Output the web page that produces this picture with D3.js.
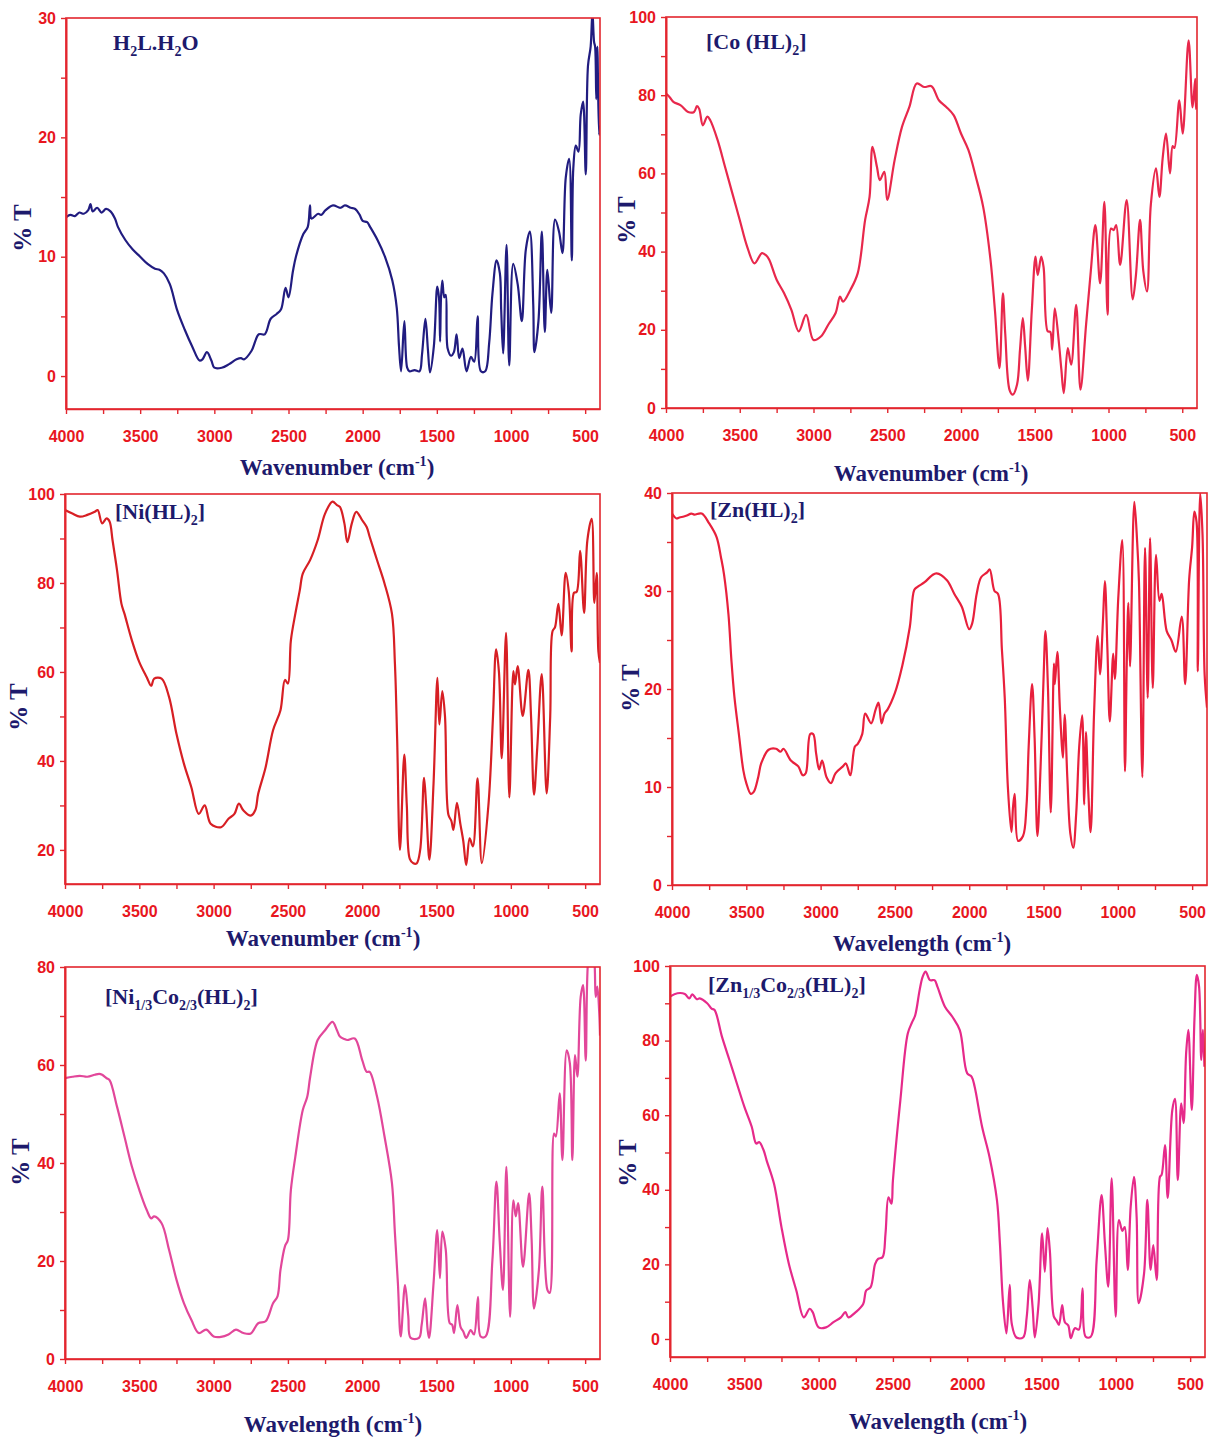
<!DOCTYPE html>
<html>
<head>
<meta charset="utf-8">
<script src="https://cdn.jsdelivr.net/npm/d3@7"></script>
<style>
body { margin: 0; background: #fff; }
</style>
</head>
<body>
<div class="canvas"></div>
<script>
// spectra: [wavenumber (cm-1), %T]
const specH2L = [[4000,13.3],[3970,13.5],[3940,13.4],[3910,13.7],[3880,13.6],[3850,13.9],[3835,14.4],[3820,13.8],[3790,14.1],[3760,13.7],[3730,14.0],[3700,13.8],[3670,13.2],[3650,12.5],[3600,11.4],[3550,10.6],[3500,10.0],[3450,9.4],[3400,9.0],[3370,8.9],[3340,8.6],[3300,7.7],[3250,5.5],[3200,3.9],[3150,2.5],[3100,1.3],[3080,1.4],[3050,2.0],[3020,1.3],[3000,0.7],[2950,0.7],[2900,1.0],[2850,1.4],[2820,1.5],[2800,1.4],[2750,2.1],[2700,3.5],[2660,3.5],[2620,4.8],[2580,5.2],[2550,5.6],[2520,7.4],[2500,6.6],[2470,8.8],[2450,10.0],[2400,11.9],[2370,12.5],[2355,14.3],[2345,13.2],[2300,13.6],[2280,13.5],[2250,13.9],[2200,14.3],[2150,14.1],[2120,14.3],[2080,14.1],[2050,14.0],[2020,13.5],[2000,13.0],[1970,12.9],[1950,12.5],[1900,11.4],[1850,10.0],[1800,8.0],[1770,5.7],[1755,2.5],[1741,0.4],[1719,4.6],[1700,0.7],[1685,0.4],[1650,0.5],[1617,0.4],[1600,1.8],[1577,4.8],[1560,2.2],[1546,0.3],[1520,2.5],[1497,7.5],[1485,6.5],[1478,2.9],[1472,6.5],[1463,8.0],[1450,6.6],[1440,6.8],[1427,2.3],[1404,1.7],[1385,2.0],[1367,3.5],[1349,1.5],[1327,2.3],[1300,0.4],[1270,1.6],[1248,1.2],[1225,5.0],[1203,0.4],[1174,0.4],[1147,2.8],[1125,6.9],[1097,9.7],[1075,8.6],[1066,5.5],[1053,1.9],[1030,11.0],[1012,0.9],[985,9.4],[955,7.7],[927,4.6],[900,10.6],[873,12.1],[850,6.0],[842,2.0],[815,4.6],[792,12.1],[772,3.7],[755,8.9],[729,5.3],[703,13.1],[676,12.1],[653,10.3],[631,16.6],[608,18.2],[590,9.7],[580,17.4],[563,19.3],[545,18.8],[530,21.9],[514,23.0],[496,16.9],[481,26.0],[463,27.6],[451,30.5],[440,28.0],[433,27.6],[425,23.2],[418,27.6],[406,20.2],[400,21.0]]

const specCo = [[4000,80.4],[3975,79.5],[3950,78.3],[3900,77.4],[3850,75.7],[3810,75.7],[3790,77.2],[3775,76.5],[3750,72.3],[3720,74.5],[3700,73.6],[3650,68.5],[3600,61.7],[3550,54.9],[3500,48.1],[3450,41.3],[3400,37.0],[3350,39.6],[3320,39.0],[3300,37.9],[3250,32.8],[3200,29.4],[3150,25.1],[3100,19.6],[3050,23.8],[3000,17.4],[2950,18.3],[2900,21.3],[2850,24.3],[2820,28.5],[2800,27.2],[2750,30.2],[2700,34.5],[2650,48.1],[2620,54.0],[2600,66.8],[2570,61.7],[2550,58.3],[2520,60.4],[2500,53.2],[2450,63.4],[2400,71.9],[2350,77.0],[2300,83.0],[2250,82.1],[2200,82.3],[2150,78.7],[2100,77.0],[2050,74.9],[2000,70.2],[1950,66.0],[1900,59.2],[1850,51.5],[1800,37.9],[1770,25.0],[1739,10.2],[1716,29.3],[1700,19.0],[1670,4.5],[1649,3.4],[1620,6.0],[1600,14.9],[1581,23.0],[1565,15.7],[1547,7.0],[1520,25.0],[1495,38.7],[1480,34.0],[1456,38.7],[1440,36.0],[1412,19.6],[1395,19.5],[1382,14.9],[1364,25.5],[1337,17.0],[1320,10.0],[1303,3.8],[1276,15.3],[1253,11.1],[1219,26.4],[1190,4.7],[1152,21.3],[1120,35.0],[1089,46.8],[1057,31.9],[1028,52.7],[1006,23.9],[983,45.9],[965,45.5],[948,46.8],[921,36.6],[877,53.2],[836,27.8],[814,34.0],[786,48.1],[764,35.0],[739,29.8],[713,52.0],[678,61.3],[655,54.0],[633,63.8],[610,70.2],[583,60.0],[565,67.0],[553,66.5],[520,78.7],[497,70.2],[457,94.0],[430,76.9],[412,84.2],[407,76.5],[400,78.0]]

const specNi = [[4000,96.4],[3950,95.6],[3900,94.9],[3850,95.3],[3800,96.0],[3780,96.4],[3750,93.4],[3720,94.5],[3700,93.8],[3680,89.6],[3650,82.9],[3620,75.3],[3600,73.1],[3550,67.1],[3500,62.2],[3450,58.8],[3420,56.9],[3400,58.5],[3350,58.5],[3300,54.4],[3250,46.1],[3200,39.4],[3150,34.1],[3100,28.1],[3060,30.0],[3020,25.9],[2950,25.1],[2900,27.0],[2860,28.1],[2830,30.4],[2800,28.9],[2750,27.7],[2720,28.9],[2700,32.6],[2650,38.6],[2600,46.9],[2550,51.4],[2520,58.2],[2500,57.4],[2480,67.1],[2450,73.1],[2420,78.4],[2400,82.1],[2350,85.2],[2300,89.6],[2250,95.6],[2200,98.3],[2170,97.5],[2150,97.1],[2120,93.4],[2100,89.2],[2070,93.4],[2040,96.0],[2000,94.1],[1970,92.6],[1950,90.4],[1900,85.1],[1850,79.9],[1800,73.1],[1780,61.9],[1765,45.0],[1746,20.0],[1717,41.4],[1700,30.0],[1680,18.0],[1656,17.0],[1633,17.0],[1610,20.0],[1584,36.2],[1570,30.0],[1548,17.8],[1520,35.0],[1494,58.7],[1481,48.2],[1461,55.7],[1443,50.0],[1420,27.9],[1400,26.5],[1386,24.5],[1363,30.6],[1340,25.9],[1320,22.0],[1300,16.6],[1277,22.6],[1255,20.8],[1224,36.1],[1195,17.0],[1150,30.4],[1120,50.0],[1099,65.1],[1080,60.0],[1061,40.6],[1032,68.8],[1010,31.8],[983,60.2],[972,57.2],[954,61.3],[920,50.1],[882,60.5],[864,50.0],[844,32.4],[822,43.1],[792,59.5],[759,32.7],[735,50.0],[719,69.2],[703,70.0],[680,75.3],[658,68.2],[631,82.3],[610,78.0],[591,64.6],[575,77.8],[557,78.0],[534,87.2],[507,73.3],[485,89.6],[456,94.4],[438,75.5],[422,82.3],[411,64.7],[400,62.0]]

const specZn = [[4000,37.9],[3970,37.4],[3950,37.5],[3920,37.6],[3900,37.7],[3870,37.9],[3850,37.8],[3800,37.9],[3750,36.9],[3700,35.5],[3670,33.4],[3650,31.7],[3620,27.6],[3600,22.9],[3580,19.2],[3550,15.4],[3520,11.7],[3500,10.4],[3470,9.3],[3450,9.5],[3420,11.0],[3400,12.4],[3350,13.8],[3300,13.9],[3270,13.6],[3250,13.9],[3200,12.7],[3150,12.1],[3120,11.2],[3100,11.4],[3070,15.4],[3050,15.4],[3030,13.4],[3010,11.8],[2990,12.7],[2960,11.0],[2930,10.4],[2900,11.4],[2850,12.1],[2830,12.4],[2800,11.2],[2770,14.1],[2750,14.4],[2720,15.4],[2700,17.5],[2660,16.5],[2630,17.9],[2610,18.6],[2590,16.5],[2570,17.5],[2550,17.9],[2500,19.6],[2450,22.4],[2400,26.3],[2370,30.1],[2350,30.4],[2300,30.9],[2250,31.6],[2220,31.8],[2150,31.1],[2100,29.7],[2050,28.4],[2000,26.1],[1980,26.7],[1950,29.7],[1920,31.4],[1880,31.9],[1862,32.2],[1830,30.0],[1806,29.7],[1780,24.0],[1761,19.1],[1740,10.0],[1716,5.4],[1705,8.0],[1694,9.3],[1671,4.5],[1638,5.0],[1615,8.0],[1600,14.1],[1577,20.5],[1560,15.0],[1541,5.0],[1520,12.0],[1500,21.0],[1487,25.9],[1470,20.0],[1451,7.4],[1430,22.6],[1424,20.5],[1407,23.8],[1390,18.0],[1369,13.0],[1358,17.4],[1340,11.0],[1320,5.3],[1300,3.8],[1280,7.3],[1260,14.1],[1240,17.3],[1226,8.2],[1215,15.6],[1200,10.0],[1183,5.4],[1160,17.5],[1136,25.4],[1120,21.5],[1100,27.0],[1087,31.0],[1070,24.0],[1054,16.7],[1031,23.6],[1020,21.0],[997,29.3],[970,35.2],[952,11.6],[940,22.6],[929,28.8],[918,22.3],[889,39.1],[870,35.0],[858,31.0],[835,11.0],[817,34.4],[799,19.1],[783,35.4],[765,20.1],[743,33.7],[720,29.0],[705,29.7],[671,25.9],[640,25.0],[610,23.8],[570,27.4],[547,20.5],[520,31.2],[500,34.5],[485,38.1],[470,37.0],[462,21.8],[446,40.0],[430,35.7],[416,21.5],[400,18.1]]

const specNiCo = [[4000,57.3],[3950,57.6],[3900,57.8],[3850,57.6],[3800,58.0],[3770,58.2],[3750,58.0],[3720,57.3],[3700,56.9],[3650,51.5],[3600,45.4],[3550,39.3],[3500,34.5],[3450,30.4],[3420,28.7],[3400,29.1],[3350,27.7],[3300,22.3],[3250,16.2],[3200,11.4],[3150,8.0],[3100,5.3],[3050,6.0],[3000,4.6],[2950,4.5],[2900,5.0],[2850,6.0],[2800,5.3],[2750,5.2],[2700,7.3],[2650,7.7],[2600,11.4],[2570,12.8],[2550,18.2],[2520,23.0],[2500,24.3],[2480,34.5],[2450,41.3],[2400,50.8],[2370,53.5],[2350,57.6],[2300,65.1],[2250,67.1],[2200,68.8],[2170,67.1],[2150,65.8],[2120,65.3],[2100,65.1],[2050,65.4],[2000,61.0],[1970,58.6],[1950,58.6],[1900,53.5],[1850,45.4],[1800,35.9],[1780,25.7],[1760,15.5],[1741,4.6],[1712,15.1],[1690,8.7],[1674,4.3],[1618,4.3],[1600,7.0],[1577,12.4],[1560,6.0],[1550,4.3],[1520,15.5],[1495,26.3],[1477,16.5],[1461,26.0],[1438,22.3],[1411,7.3],[1395,7.0],[1382,5.3],[1360,11.0],[1338,6.5],[1320,5.6],[1300,4.3],[1270,5.9],[1248,5.0],[1221,12.7],[1203,4.6],[1170,4.6],[1124,20.2],[1097,36.2],[1075,24.2],[1053,14.1],[1030,39.2],[1005,8.6],[983,32.4],[967,29.1],[951,31.8],[918,18.8],[877,33.8],[860,24.3],[844,10.3],[811,18.2],[788,35.2],[754,14.1],[738,13.5],[709,46.0],[697,45.4],[671,54.2],[653,40.6],[624,63.0],[603,60.4],[586,40.6],[568,62.0],[552,57.6],[530,73.9],[514,76.3],[496,60.9],[478,82.0],[460,84.0],[440,82.0],[429,73.9],[418,76.0],[406,71.2],[400,66.0]]

const specZnCo = [[4000,91.8],[3950,92.7],[3900,92.5],[3870,91.3],[3850,92.4],[3820,91.1],[3800,91.3],[3750,90.0],[3720,88.6],[3700,88.2],[3650,81.0],[3600,74.8],[3550,68.5],[3500,62.3],[3450,56.9],[3420,52.4],[3400,52.8],[3370,50.6],[3350,47.9],[3300,41.6],[3250,30.0],[3200,20.1],[3150,13.0],[3100,5.8],[3060,8.1],[3040,7.2],[3000,3.1],[2950,3.1],[2900,4.5],[2850,5.8],[2820,7.2],[2800,5.8],[2750,7.2],[2700,9.4],[2680,13.0],[2650,13.9],[2620,20.1],[2600,21.5],[2570,21.9],[2550,28.2],[2530,38.0],[2510,36.3],[2500,42.5],[2450,64.0],[2400,81.9],[2370,85.0],[2350,86.8],[2320,93.6],[2300,97.1],[2280,98.5],[2250,96.2],[2220,96.2],[2200,94.4],[2150,89.1],[2100,86.4],[2050,82.8],[2000,71.2],[1970,70.3],[1950,67.6],[1900,56.9],[1850,48.8],[1800,37.2],[1780,25.6],[1760,10.3],[1736,1.5],[1714,14.5],[1700,4.0],[1669,0.4],[1624,0.4],[1600,5.8],[1579,15.8],[1560,8.5],[1545,0.4],[1520,9.4],[1496,28.3],[1478,18.0],[1460,29.7],[1444,23.7],[1417,6.0],[1400,5.0],[1383,3.8],[1361,9.1],[1343,4.5],[1320,3.6],[1303,0.2],[1276,2.9],[1249,2.5],[1224,13.6],[1203,0.6],[1169,0.6],[1129,21.2],[1096,38.6],[1073,25.3],[1051,14.0],[1028,43.1],[1001,6.0],[979,31.9],[956,29.0],[940,30.0],[920,18.5],[900,35.5],[878,43.5],[860,32.7],[846,9.6],[810,17.6],[788,37.3],[766,18.5],[748,25.2],[725,15.8],[703,43.5],[692,44.0],[669,52.0],[651,37.8],[620,61.4],[602,64.4],[583,42.6],[560,63.2],[544,57.9],[527,76.6],[512,82.9],[489,61.4],[471,85.7],[455,97.6],[440,94.5],[425,74.8],[414,82.9],[404,73.0]]

// tick values
const xTickValues = d3.range(4000, 499, -250)
const xTickLabels = [4000, 3500, 3000, 2500, 2000, 1500, 1000, 500]

// compound labels, pieces: [text, "sub" | ""]
const labelH2L = [["H", ""], ["2", "sub"], ["L.H", ""], ["2", "sub"], ["O", ""]]
const labelCo = [["[Co (HL)", ""], ["2", "sub"], ["]", ""]]
const labelNi = [["[Ni(HL)", ""], ["2", "sub"], ["]", ""]]
const labelZn = [["[Zn(HL)", ""], ["2", "sub"], ["]", ""]]
const labelNiCo = [["[Ni", ""], ["1/3", "sub"], ["Co", ""], ["2/3", "sub"], ["(HL)", ""], ["2", "sub"], ["]", ""]]
const labelZnCo = [["[Zn", ""], ["1/3", "sub"], ["Co", ""], ["2/3", "sub"], ["(HL)", ""], ["2", "sub"], ["]", ""]]

const frameRed = "#e3262e"
const tickRed = "#e8161e"
const navy = "#1d1a6c"

const panels = [
    { data: specH2L, color: "#211c80", box: [66, 18, 600, 409], yDomain: [-2.76, 30], yTicks: [0, 10, 20, 30], yMinor: [5, 15, 25],
      label: labelH2L, labelPos: [113, 50], xTitle: "Wavenumber", titlePos: [337, 475], pctPos: [22, 228] },
    { data: specCo, color: "#e8284c", box: [666, 17, 1197, 408], yDomain: [0, 100], yTicks: [0, 20, 40, 60, 80, 100], yMinor: [10, 30, 50, 70, 90],
      label: labelCo, labelPos: [706, 49], xTitle: "Wavenumber", titlePos: [931, 481], pctPos: [626, 220] },
    { data: specNi, color: "#d71f24", box: [65, 494, 600, 884], yDomain: [12.34, 100], yTicks: [20, 40, 60, 80, 100], yMinor: [30, 50, 70, 90],
      label: labelNi, labelPos: [115, 519], xTitle: "Wavenumber", titlePos: [323, 946], pctPos: [18, 707] },
    { data: specZn, color: "#e8203c", box: [672, 493, 1207, 885], yDomain: [0, 40], yTicks: [0, 10, 20, 30, 40], yMinor: [5, 15, 25, 35],
      label: labelZn, labelPos: [710, 517], xTitle: "Wavelength", titlePos: [922, 951], pctPos: [630, 688] },
    { data: specNiCo, color: "#e2479a", box: [65, 967, 600, 1359], yDomain: [0, 80], yTicks: [0, 20, 40, 60, 80], yMinor: [10, 30, 50, 70],
      label: labelNiCo, labelPos: [105, 1004], xTitle: "Wavelength", titlePos: [333, 1432], pctPos: [20, 1162] },
    { data: specZnCo, color: "#e62a8a", box: [670, 966, 1205, 1357], yDomain: [-4.83, 100], yTicks: [0, 20, 40, 60, 80, 100], yMinor: [10, 30, 50, 70, 90],
      label: labelZnCo, labelPos: [708, 992], xTitle: "Wavelength", titlePos: [938, 1429], pctPos: [627, 1163] }
]

const svg = d3.select(".canvas")
    .append("svg")
    .attr("width", 1210)
    .attr("height", 1441)
    .style("background", "#fff")

const serif = "'Times New Roman', 'Liberation Serif', serif"
const sans = "Arial, 'Liberation Sans', sans-serif"

panels.forEach((p, i) => {
    const [x0, y0, x1, y1] = p.box

    const x = d3.scaleLinear().domain([4000, 400]).range([x0, x1])
    const y = d3.scaleLinear().domain(p.yDomain).range([y1, y0])

    // clip so clipped peaks stop at the frame
    svg.append("clipPath")
        .attr("id", "clip" + i)
        .append("rect")
        .attr("x", x0).attr("y", y0)
        .attr("width", x1 - x0).attr("height", y1 - y0)

    const line = d3.line()
        .x(d => x(d[0]))
        .y(d => y(d[1]))
        .curve(d3.curveCatmullRom.alpha(0.5))

    svg.append("path")
        .datum(p.data)
        .attr("clip-path", `url(#clip${i})`)
        .attr("fill", "none")
        .attr("stroke", p.color)
        .attr("stroke-width", 2.2)
        .attr("stroke-linejoin", "round")
        .attr("d", line)

    // frame
    svg.append("rect")
        .attr("x", x0).attr("y", y0)
        .attr("width", x1 - x0).attr("height", y1 - y0)
        .attr("fill", "none")
        .attr("stroke", frameRed)
        .attr("stroke-width", 1.6)

    // x axis
    const xAxis = d3.axisBottom(x)
        .tickValues(xTickValues)
        .tickSize(5)
        .tickSizeOuter(0)
        .tickPadding(17)
        .tickFormat(d => xTickLabels.includes(d) ? d : "")
    const gx = svg.append("g")
        .attr("transform", `translate(0, ${y1})`)
        .call(xAxis)

    // y axis, minor ticks first
    svg.append("g")
        .attr("transform", `translate(${x0}, 0)`)
        .call(d3.axisLeft(y).tickValues(p.yMinor).tickSize(5).tickSizeOuter(0).tickFormat(""))
    const gy = svg.append("g")
        .attr("transform", `translate(${x0}, 0)`)
        .call(d3.axisLeft(y).tickValues(p.yTicks).tickSize(5).tickSizeOuter(0).tickPadding(5))

    svg.selectAll(".domain").attr("stroke", frameRed).attr("stroke-width", 1.6)
    svg.selectAll(".tick line").attr("stroke", frameRed).attr("stroke-width", 1.4)
    ;[gx, gy].forEach(g => g.selectAll("text")
        .attr("fill", tickRed)
        .style("font-family", sans)
        .style("font-weight", "bold")
        .style("font-size", "16px"))

    // x title with superscript
    const t = svg.append("text")
        .attr("x", p.titlePos[0])
        .attr("y", p.titlePos[1])
        .attr("text-anchor", "middle")
        .attr("fill", navy)
        .style("font-family", serif)
        .style("font-weight", "bold")
        .style("font-size", "23px")
    t.append("tspan").text(p.xTitle + " (cm")
    t.append("tspan").attr("dy", -9).style("font-size", "14px").text("-1")
    t.append("tspan").attr("dy", 9).text(")")

    // % T
    svg.append("text")
        .attr("transform", `translate(${p.pctPos[0]}, ${p.pctPos[1]}) rotate(-90)`)
        .attr("text-anchor", "middle")
        .attr("dy", "0.35em")
        .attr("fill", navy)
        .style("font-family", serif)
        .style("font-weight", "bold")
        .style("font-size", "25px")
        .text("% T")

    // compound label
    const lab = svg.append("text")
        .attr("x", p.labelPos[0])
        .attr("y", p.labelPos[1])
        .attr("fill", navy)
        .style("font-family", serif)
        .style("font-weight", "bold")
        .style("font-size", "22px")
    let shift = 0
    p.label.forEach(([s, kind]) => {
        const target = kind === "sub" ? 6 : 0
        const ts = lab.append("tspan").attr("dy", target - shift).text(s)
        if (kind === "sub") ts.style("font-size", "14px")
        shift = target
    })
})
</script>
</body>
</html>
